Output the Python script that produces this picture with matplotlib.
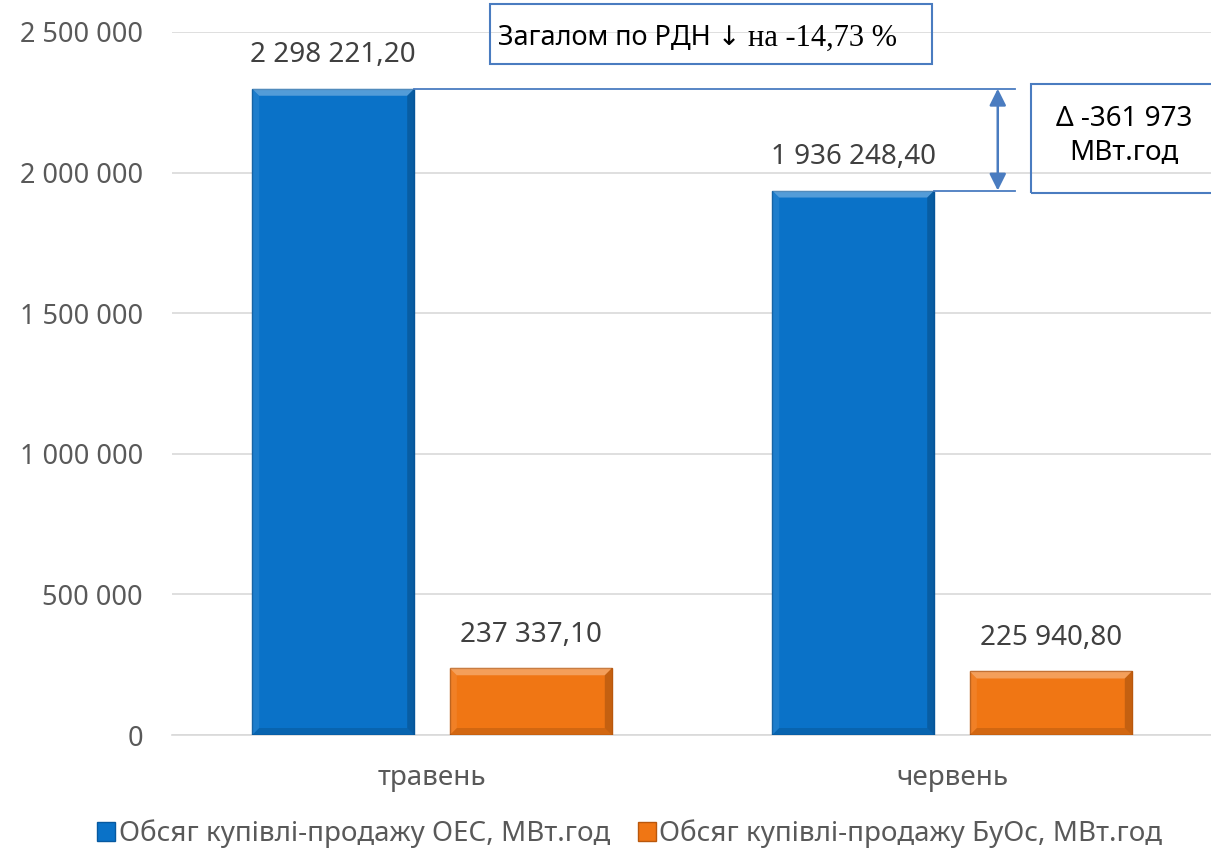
import numpy as np
import matplotlib
matplotlib.use('Agg')
from matplotlib import pyplot as plt
from matplotlib.patches import Rectangle, Polygon

plt.rcParams['font.family'] = ['Noto Sans', 'DejaVu Sans']

months = ['травень', 'червень']
oes = [2298221.20, 1936248.40]
buos = [237337.10, 225940.80]
series_names = ['Обсяг купівлі-продажу ОЕС, МВт.год', 'Обсяг купівлі-продажу БуОс, МВт.год']
y_ticks = [0, 500000, 1000000, 1500000, 2000000, 2500000]
total_change = '-14,73 %'
delta_text = 'Δ -361 973\nМВт.год'

blue = '#0A72C8'
orange = '#F07614'
line_col = '#4A7CC0'
txt_col = '#404040'


def fmt(v, dec=2):
    s = f'{v:,.{dec}f}'
    return s.replace(',', ' ').replace('.', ',')


fig = plt.figure(figsize=(12.11, 8.55), dpi=100)
ax = fig.add_axes([172 / 1211, 120 / 855, 1040 / 1211, 703 / 855])

x = np.arange(len(months))
w = 0.3115
off = 0.19
b1 = ax.bar(x - off, oes, w, color=blue, edgecolor='#0659A0', linewidth=1.0, zorder=3,
            label=series_names[0])
b2 = ax.bar(x + off, buos, w, color=orange, edgecolor='#B9570C', linewidth=1.0, zorder=3,
            label=series_names[1])

ax.set_xlim(-0.5, 1.5)
ax.set_ylim(0, 2500000)

# bevel look on bars (~7 px wide)
dx = 7 / 520
dy = 7 * 2500000 / 703
for p in list(b1) + list(b2):
    x0, y0 = p.get_x(), p.get_y()
    x1, y1 = x0 + p.get_width(), y0 + p.get_height()
    sides = [
        ([(x0, y1), (x1, y1), (x1 - dx, y1 - dy), (x0 + dx, y1 - dy)], 'white', 0.30),
        ([(x0, y0), (x1, y0), (x1 - dx, y0 + dy), (x0 + dx, y0 + dy)], 'black', 0.12),
        ([(x0, y0), (x0, y1), (x0 + dx, y1 - dy), (x0 + dx, y0 + dy)], 'white', 0.08),
        ([(x1, y0), (x1, y1), (x1 - dx, y1 - dy), (x1 - dx, y0 + dy)], 'black', 0.18),
    ]
    for pts, c, a in sides:
        ax.add_patch(Polygon(pts, closed=True, facecolor=c, alpha=a, edgecolor='none', zorder=4))

for xi, v in list(zip(x - off, oes)) + list(zip(x + off, buos)):
    ax.annotate(fmt(v), (xi, v), xytext=(0, 19), textcoords='offset points',
                ha='center', va='baseline', fontsize=20, color=txt_col)

ax.set_yticks(y_ticks)
ax.set_yticklabels([fmt(t, 0) for t in y_ticks], fontsize=19.5, color='#595959')
ax.set_xticks(x)
ax.set_xticklabels(months, fontsize=20, color='#595959')
ax.tick_params(axis='x', length=0, pad=21)
ax.tick_params(axis='y', length=0, pad=21)
ax.grid(axis='y', color='#D9D9D9', linewidth=1.2, zorder=0)
for s in ['top', 'right', 'left']:
    ax.spines[s].set_visible(False)
ax.spines['bottom'].set_color('#D9D9D9')
ax.spines['bottom'].set_linewidth(1.2)

# difference marker
ax.plot([-off + w / 2, 1.121], [oes[0], oes[0]], color=line_col, lw=1.3, zorder=4, clip_on=False)
ax.plot([1 - off + w / 2, 1.121], [oes[1], oes[1]], color=line_col, lw=1.3, zorder=4, clip_on=False)
ax.annotate('', xy=(1.088, oes[1]), xytext=(1.088, oes[0]),
            arrowprops=dict(arrowstyle='<|-|>', color=line_col, lw=1.8, mutation_scale=25,
                            shrinkA=0, shrinkB=0),
            zorder=5)

# boxes (in figure pixels)
fig.patches.append(Rectangle((490 / 1211, 1 - 64 / 855), 442 / 1211, 60 / 855,
                             transform=fig.transFigure, fill=False, edgecolor=line_col, lw=1.5))
fig.text(498 / 1211, 1 - 38 / 855, 'Загалом по РДН ↓', fontsize=19.5, color='black', va='center')
fig.text(897 / 1211, 1 - 38 / 855, 'на ' + total_change, fontsize=22, color='black', va='center',
         ha='right', family=['Liberation Serif', 'DejaVu Serif'])
fig.patches.append(Rectangle((1031 / 1211, 1 - 193 / 855), 190 / 1211, 109 / 855,
                             transform=fig.transFigure, fill=False, edgecolor=line_col, lw=1.5))
fig.text(1124 / 1211, 1 - 136 / 855, delta_text, fontsize=20, color='black', ha='center',
         va='center', linespacing=1.3)

fig.legend(handles=[b1, b2], loc='center', bbox_to_anchor=(0.52, 1 - 834 / 855), ncol=2,
           frameon=False, fontsize=20, handlelength=0.65, handleheight=0.65, handletextpad=0.12,
           columnspacing=1.0, labelcolor='#595959', borderaxespad=0)

fig.savefig('out.png', dpi=100)
